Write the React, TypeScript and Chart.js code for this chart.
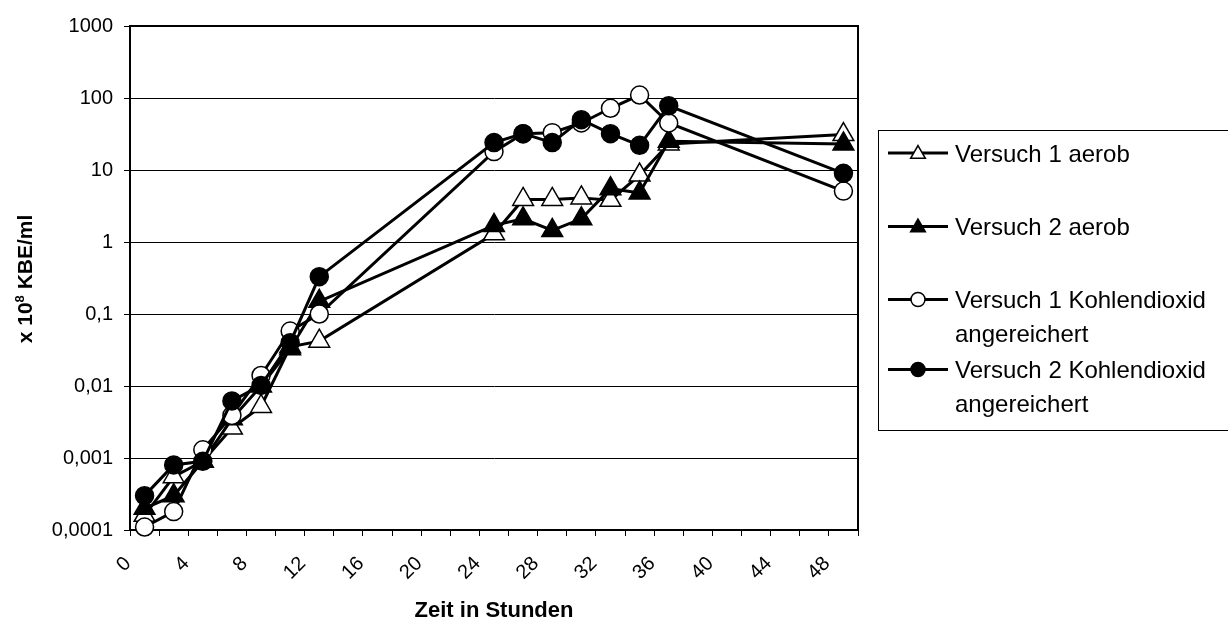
import React, { useEffect, useRef } from 'react';
import { Chart, registerables } from 'chart.js';

Chart.register(...registerables);

const FONT = "'Liberation Sans', Arial, sans-serif";

// Hours (x values)
const hours = [1, 3, 5, 7, 9, 11, 13, 25, 27, 29, 31, 33, 35, 37, 49];

// Series values (x 10^8 KBE/ml)
const v1Aerob = [0.00016, 0.00055, 0.0009, 0.0026, 0.0052, 0.035, 0.042, 1.3, 3.9, 3.9, 4.1, 3.8, 8.5, 23, 31];
const v2Aerob = [0.0002, 0.0003, 0.0009, 0.0035, 0.01, 0.033, 0.15, 1.7, 2.1, 1.45, 2.1, 5.5, 4.8, 25, 23];
const v1CO2 = [0.00011, 0.00018, 0.0013, 0.0039, 0.014, 0.058, 0.1, 18, 32, 33, 45, 72, 110, 45, 5.1];
const v2CO2 = [0.0003, 0.0008, 0.0009, 0.0062, 0.0102, 0.04, 0.33, 24, 32, 24, 50, 32, 22, 78, 9];

const seriesNames = [
  'Versuch 1 aerob',
  'Versuch 2 aerob',
  'Versuch 1 Kohlendioxid angereichert',
  'Versuch 2 Kohlendioxid angereichert',
];
const legendLines = [
  ['Versuch 1 aerob'],
  ['Versuch 2 aerob'],
  ['Versuch 1 Kohlendioxid', 'angereichert'],
  ['Versuch 2 Kohlendioxid', 'angereichert'],
];

const yTickValues = [0.0001, 0.001, 0.01, 0.1, 1, 10, 100, 1000];
const yTickLabels = ['0,0001', '0,001', '0,01', '0,1', '1', '10', '100', '1000'];
const xMin = 0;
const xMax = 50;
const xTickStep = 2;
const xLabelEvery = 4;
const xTitle = 'Zeit in Stunden';
const yTitleParts = ['x 10', '8', ' KBE/ml'];

function drawMarker(ctx: CanvasRenderingContext2D, style: string, x: number, y: number, r: number, fill: string) {
  ctx.save();
  ctx.beginPath();
  if (style === 'triangle') {
    let rad = 0;
    const T = (2 * Math.PI) / 3;
    ctx.moveTo(x + Math.sin(rad) * r, y - Math.cos(rad) * r);
    rad += T;
    ctx.lineTo(x + Math.sin(rad) * r, y - Math.cos(rad) * r);
    rad += T;
    ctx.lineTo(x + Math.sin(rad) * r, y - Math.cos(rad) * r);
    ctx.closePath();
  } else {
    ctx.arc(x, y, r, 0, Math.PI * 2);
  }
  ctx.fillStyle = fill;
  ctx.fill();
  ctx.lineWidth = 1.5;
  ctx.strokeStyle = '#000';
  ctx.stroke();
  ctx.restore();
}

const overlayPlugin = {
  id: 'overlay',
  beforeDatasetsDraw(chart: any) {
    const { ctx, chartArea: a } = chart;
    ctx.save();
    ctx.strokeStyle = '#000';
    ctx.lineWidth = 2;
    ctx.strokeRect(a.left, a.top, a.right - a.left, a.bottom - a.top);
    ctx.restore();
  },
  afterDraw(chart: any) {
    const { ctx, chartArea: a } = chart;
    ctx.save();
    ctx.fillStyle = '#000';

    // X title
    ctx.font = `bold 22px ${FONT}`;
    ctx.textAlign = 'center';
    ctx.textBaseline = 'alphabetic';
    ctx.fillText(xTitle, (a.left + a.right) / 2, 617);

    // Y title (rotated, with superscript)
    ctx.save();
    ctx.translate(32, (a.top + a.bottom) / 2 + 1);
    ctx.rotate(-Math.PI / 2);
    const big = `bold 21px ${FONT}`;
    const small = `bold 13px ${FONT}`;
    ctx.font = big;
    const w1 = ctx.measureText(yTitleParts[0]).width;
    const w3 = ctx.measureText(yTitleParts[2]).width;
    ctx.font = small;
    const w2 = ctx.measureText(yTitleParts[1]).width;
    const total = w1 + w2 + w3;
    const x0 = -total / 2;
    ctx.textAlign = 'left';
    ctx.font = big;
    ctx.fillText(yTitleParts[0], x0, 0);
    ctx.font = small;
    ctx.fillText(yTitleParts[1], x0 + w1, -8);
    ctx.font = big;
    ctx.fillText(yTitleParts[2], x0 + w1 + w2, 0);
    ctx.restore();

    // Legend
    const lx = 878.5, ly = 130.5, lw = 400, lh = 300;
    ctx.lineWidth = 1;
    ctx.strokeStyle = '#000';
    ctx.strokeRect(lx, ly, lw, lh);
    const rowCenters = [153, 226.5, 299.5, 369.5];
    const lineGap = 34;
    const ds = chart.data.datasets;
    ctx.font = `24px ${FONT}`;
    ctx.textAlign = 'left';
    ctx.textBaseline = 'alphabetic';
    legendLines.forEach((lines, i) => {
      const cy = rowCenters[i];
      ctx.beginPath();
      ctx.lineWidth = 3;
      ctx.strokeStyle = '#000';
      ctx.moveTo(888, cy);
      ctx.lineTo(948, cy);
      ctx.stroke();
      const d = ds[i];
      const isTri = d.pointStyle === 'triangle';
      drawMarker(ctx, d.pointStyle, 918, isTri ? cy + 1 : cy, isTri ? 8.5 : 7, d.pointBackgroundColor);
      ctx.fillStyle = '#000';
      lines.forEach((t, k) => {
        ctx.fillText(t, 955, cy + 8.6 + k * lineGap);
      });
    });
    ctx.restore();
  },
};

export default function App() {
  const canvasRef = useRef<HTMLCanvasElement | null>(null);

  useEffect(() => {
    document.body.style.margin = '0';
    const canvas = canvasRef.current;
    if (!canvas) return;
    const mk = (vals: number[]) => hours.map((h, i) => ({ x: h, y: vals[i] }));
    const base = {
      borderColor: '#000',
      borderWidth: 3,
      pointBorderColor: '#000',
      pointBorderWidth: 1.5,
      clip: false as any,
      tension: 0,
      fill: false,
    };
    const chart = new Chart(canvas, {
      type: 'line',
      data: {
        datasets: [
          { ...base, label: seriesNames[0], data: mk(v1Aerob), pointStyle: 'triangle', pointRadius: 12, pointBackgroundColor: '#fff', order: 3 },
          { ...base, label: seriesNames[1], data: mk(v2Aerob), pointStyle: 'triangle', pointRadius: 12, pointBackgroundColor: '#000', order: 2 },
          { ...base, label: seriesNames[2], data: mk(v1CO2), pointStyle: 'circle', pointRadius: 9, pointBackgroundColor: '#fff', order: 1 },
          { ...base, label: seriesNames[3], data: mk(v2CO2), pointStyle: 'circle', pointRadius: 9, pointBackgroundColor: '#000', order: 0 },
        ] as any,
      },
      options: {
        responsive: false,
        animation: false,
        devicePixelRatio: 1,
        events: [],
        layout: { padding: { top: 26, right: 370, left: 0, bottom: 0 } },
        plugins: { legend: { display: false }, tooltip: { enabled: false } },
        scales: {
          x: {
            type: 'linear',
            min: xMin,
            max: xMax,
            afterFit: (s: any) => { s.height = 91; },
            ticks: {
              stepSize: xTickStep,
              autoSkip: false,
              maxRotation: 45,
              minRotation: 45,
              padding: 16,
              labelOffset: -2,
              color: '#000',
              font: { family: FONT, size: 20 },
              callback: (v: any) => (Number(v) % xLabelEvery === 0 ? String(v) : ''),
            },
            grid: { drawOnChartArea: false, drawTicks: true, tickLength: 6, color: '#000', lineWidth: 1 },
            border: { display: true, color: '#000', width: 2 },
          },
          y: {
            type: 'logarithmic',
            min: yTickValues[0],
            max: yTickValues[yTickValues.length - 1],
            afterFit: (s: any) => { s.width = 130; },
            afterBuildTicks: (s: any) => { s.ticks = yTickValues.map((v) => ({ value: v })); },
            ticks: {
              autoSkip: false,
              padding: 11,
              color: '#000',
              font: { family: FONT, size: 20 },
              callback: (v: any) => {
                const idx = yTickValues.findIndex((t) => Math.abs(Math.log10(t) - Math.log10(Number(v))) < 1e-6);
                return idx >= 0 ? yTickLabels[idx] : '';
              },
            },
            grid: { color: '#000', lineWidth: 1, tickLength: 6, drawTicks: true },
            border: { display: true, color: '#000', width: 2 },
          },
        },
      } as any,
      plugins: [overlayPlugin as any],
    });
    return () => chart.destroy();
  }, []);

  return <canvas ref={canvasRef} width={1228} height={621} style={{ display: 'block' }} />;
}
